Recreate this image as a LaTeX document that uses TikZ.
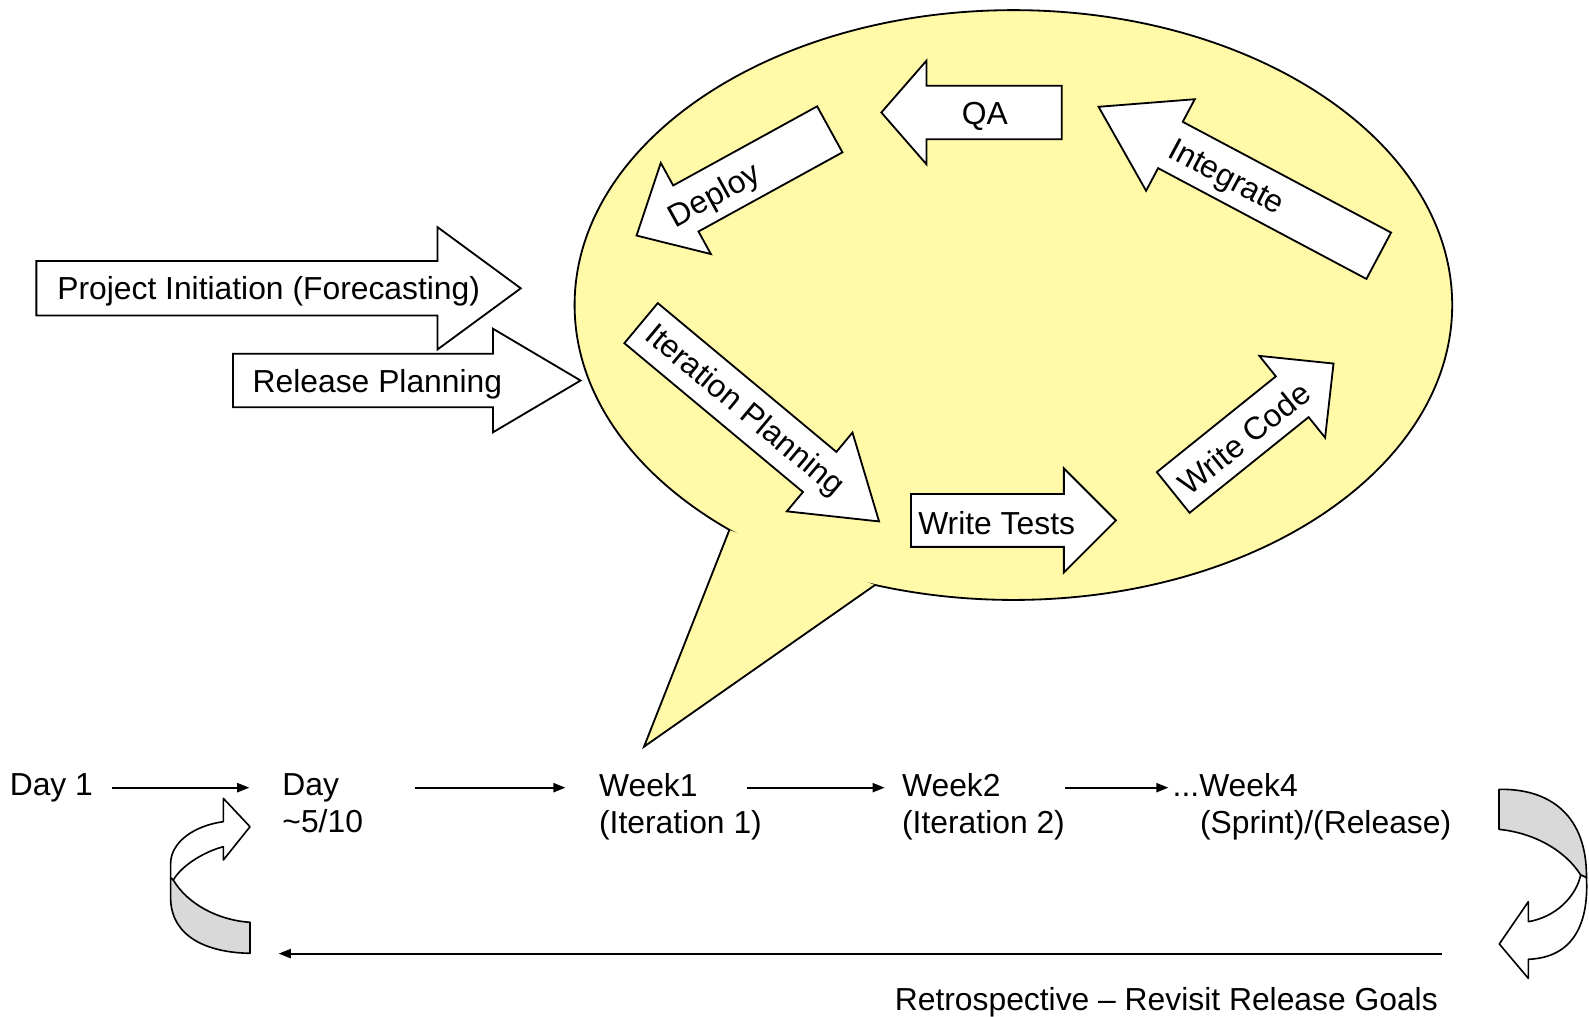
\documentclass[tikz,border=0pt]{standalone}
\usepackage{fontspec}
\setmainfont{Liberation Sans}
\usetikzlibrary{shapes.arrows, arrows.meta, calc}
\definecolor{bubble}{HTML}{FFF9A8}
\definecolor{ribbon}{HTML}{D9D9D9}
\newcommand{\diagfont}{\fontsize{31.4}{36.5}\selectfont}

\begin{document}
\begin{tikzpicture}[
    x=1pt, y=-1pt,
    font=\diagfont,
    bigarrow/.style={single arrow, draw=black, fill=white, line width=1.8pt, inner sep=0pt, inner ysep=25pt, single arrow head extend=25pt, single arrow tip angle=90, anchor=tail},
    lbl/.style={inner sep=0pt},
    stamp/.style={inner sep=0pt, align=left, anchor=north west},
    tline/.style={line width=2pt, -{Triangle[length=12pt, width=9pt]}},
    loop/.style={draw=black, line width=1.6pt, line join=round},
]
\useasboundingbox (0,0) rectangle (1568,1003);

% Speech bubble
\filldraw[fill=bubble, line width=1.8pt] (1000,301) ellipse [x radius=433pt, y radius=291pt];
\fill[bubble] (719.7,523) -- (635.5,736.8) -- (863.4,577.3) -- cycle;
\draw[line width=1.8pt] (719.7,523) -- (635.5,736.8) -- (863.4,577.3);

% Arrows into the bubble
\node[bigarrow, inner ysep=26pt, single arrow head extend=33.5pt, single arrow tip angle=72.6, minimum height=478pt] (init) at (35,284.5) {};
\node[bigarrow, inner ysep=25.5pt, single arrow head extend=24.75pt, single arrow tip angle=61.2, minimum height=343pt] (release) at (229,375.5) {};

% Iteration cycle
\node[bigarrow, rotate=208.8, single arrow head extend=25.4pt, single arrow tip angle=85.5, minimum height=217.6pt] (deploy) at (819.6,127.2) {};
\node[bigarrow, rotate=180, inner ysep=25.5pt, single arrow head extend=24.7pt, single arrow tip angle=97.9, minimum height=178pt] (qa) at (1048.6,111) {};
\node[bigarrow, rotate=152, single arrow head extend=25.25pt, single arrow tip angle=65, minimum height=313.1pt] (integrate) at (1361.3,252.8) {};
\node[bigarrow, rotate=-39.8, inner ysep=24.85pt, single arrow head extend=24.85pt, single arrow tip angle=67.1, minimum height=305.7pt] (iteration) at (631.9,318.3) {};
\node[bigarrow, inner ysep=25.15pt, single arrow head extend=25.35pt, minimum height=202.3pt] (tests) at (898,513.6) {};
\node[bigarrow, rotate=38.8, inner ysep=24.9pt, single arrow head extend=25.95pt, single arrow tip angle=89.4, minimum height=203pt] (code) at (1157,486.5) {};

% Arrow labels
\node[lbl, yshift=-3pt] (inittxt) at ($(init.tail)!0.479!(init.tip)$) {Project Initiation (Forecasting)};
\node[lbl, yshift=-4pt] (releasetxt) at ($(release.tail)!0.415!(release.tip)$) {Release Planning};
\node[lbl, rotate=28.8, yshift=-4pt] (deploytxt) at ($(deploy.tail)!0.601!(deploy.tip)$) {Deploy};
\node[lbl, yshift=-4pt] (qatxt) at ($(qa.tail)!0.426!(qa.tip)$) {QA};
\node[lbl, rotate=-28, yshift=-4pt] (integratetxt) at ($(integrate.tail)!0.538!(integrate.tip)$) {Integrate};
\node[lbl, rotate=-39.8, yshift=-2pt] (iterationtxt) at ($(iteration.tail)!0.437!(iteration.tip)$) {Iteration Planning};
\node[lbl, yshift=-3pt] (teststxt) at ($(tests.tail)!0.418!(tests.tip)$) {Write Tests};
\node[lbl, rotate=38.8, yshift=-2pt] (codetxt) at ($(code.tail)!0.434!(code.tip)$) {Write Code};

% Timeline
\node[stamp] (dayone) at (9.5,763) {Day 1};
\node[stamp] (dayfive) at (278.5,763) {Day\\\textasciitilde 5/10};
\node[stamp] (weekone) at (591,763) {Week1\\(Iteration 1)};
\node[stamp] (weektwo) at (890,763) {Week2\\(Iteration 2)};
\node[stamp] (weekfour) at (1157,763) {...Week4\\\hspace*{27pt}(Sprint)/(Release)};

\draw[tline, shorten <=18.5pt, shorten >=32.5pt] (dayone.east) -- (dayone.east -| dayfive.west);
\draw[tline, shorten <=51pt, shorten >=33pt] (dayone.east -| dayfive.east) -- (dayone.east -| weekone.west);
\draw[tline, shorten <=-14.5pt, shorten >=17pt] (dayone.east -| weekone.east) -- (dayone.east -| weektwo.west);
\draw[tline, shorten >=4pt] (dayone.east -| weektwo.east) -- (dayone.east -| weekfour.west);

% Return loop
\coordinate (loopright) at (1423,941);
\coordinate (loopleft) at (275,941);
\draw[tline] (loopright) -- (loopleft);
\node[stamp, anchor=north east] (retro) at (1419,974) {Retrospective -- Revisit Release Goals};

% Curved arrow, left
\filldraw[loop, fill=ribbon] (168.4,866) -- (168.4,888) .. controls (170,925) and (205,940) .. (246.7,940.7)
    -- (246.7,910.1) .. controls (215,908) and (185,892) .. (171,868.4) -- cycle;
\filldraw[loop, fill=white] (168.4,866) -- (168.4,852) .. controls (168.4,832) and (190,815) .. (220.4,810.8)
    -- (220.4,787.8) -- (246.7,815.8) -- (220.4,848.6) -- (220.4,835.5)
    .. controls (203,840) and (180,853) .. (171,868.4) -- cycle;

% Curved arrow, right
\filldraw[loop, fill=ribbon] (1479.2,778.9) .. controls (1530,778) and (1566,805) .. (1565.5,866)
    -- (1559.8,863.4) .. controls (1545,840) and (1515,822) .. (1479.2,818.4) -- cycle;
\filldraw[loop, fill=white] (1565.5,866) .. controls (1568,915) and (1550,945) .. (1508.1,946.6)
    -- (1508.1,965.4) -- (1479.5,931.5) -- (1508.1,889.8) -- (1508.1,909.5)
    .. controls (1535,905) and (1555,885) .. (1559.8,863.4) -- cycle;

\end{tikzpicture}
\end{document}
